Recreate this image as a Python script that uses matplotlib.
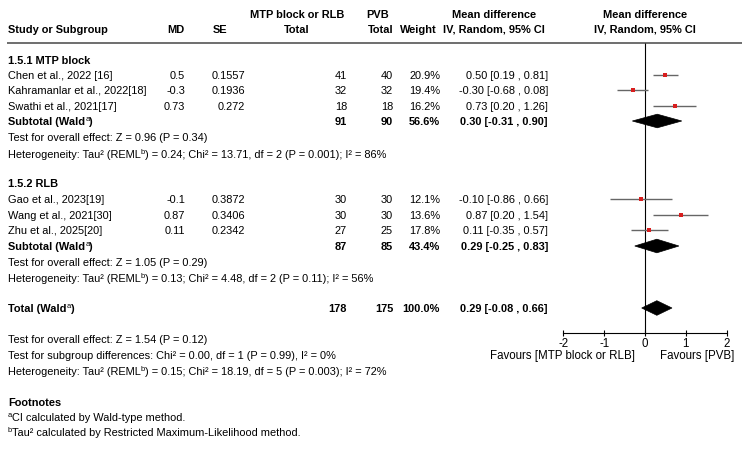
import matplotlib
matplotlib.use('Agg')
import matplotlib.pyplot as plt
from matplotlib.patches import Polygon

plt.rcParams['font.family'] = ['Liberation Sans', 'DejaVu Sans']
plt.rcParams['font.size'] = 7.9

# datos del forest plot
study_names = ['Chen et al., 2022 [16]', 'Kahramanlar et al., 2022[18]', 'Swathi et al., 2021[17]',
               'Gao et al., 2023[19]', 'Wang et al., 2021[30]', 'Zhu et al., 2025[20]']
md = [0.5, -0.3, 0.73, -0.1, 0.87, 0.11]
se = [0.1557, 0.1936, 0.272, 0.3872, 0.3406, 0.2342]
n_exp = [41, 32, 18, 30, 30, 27]
n_ctrl = [40, 32, 18, 30, 30, 25]
weight = [20.9, 19.4, 16.2, 12.1, 13.6, 17.8]
ci_lo = [0.19, -0.68, 0.20, -0.86, 0.20, -0.35]
ci_hi = [0.81, 0.08, 1.26, 0.66, 1.54, 0.57]

group_names = ['1.5.1 MTP block', '1.5.2 RLB']
sub_n_exp = [91, 87]
sub_n_ctrl = [90, 85]
sub_weight = [56.6, 43.4]
sub_md = [0.30, 0.29]
sub_lo = [-0.31, -0.25]
sub_hi = [0.90, 0.83]
sub_test = ['Test for overall effect: Z = 0.96 (P = 0.34)',
            'Test for overall effect: Z = 1.05 (P = 0.29)']
# (texto, es_superindice)
sub_het = [[('Heterogeneity: Tau\u00b2 (REML', False), ('b', True),
            (') = 0.24; Chi\u00b2 = 13.71, df = 2 (P = 0.001); I\u00b2 = 86%', False)],
           [('Heterogeneity: Tau\u00b2 (REML', False), ('b', True),
            (') = 0.13; Chi\u00b2 = 4.48, df = 2 (P = 0.11); I\u00b2 = 56%', False)]]

tot_n_exp = 178
tot_n_ctrl = 175
tot_weight = 100.0
tot_md = 0.29
tot_lo = -0.08
tot_hi = 0.66
tot_texts = [[('Test for overall effect: Z = 1.54 (P = 0.12)', False)],
             [('Test for subgroup differences: Chi\u00b2 = 0.00, df = 1 (P = 0.99), I\u00b2 = 0%', False)],
             [('Heterogeneity: Tau\u00b2 (REML', False), ('b', True),
              (') = 0.15; Chi\u00b2 = 18.19, df = 5 (P = 0.003); I\u00b2 = 72%', False)]]
footnotes = [[('a', True), ('CI calculated by Wald-type method.', False)],
             [('b', True), ('Tau\u00b2 calculated by Restricted Maximum-Likelihood method.', False)]]
x_ticks = [-2, -1, 0, 1, 2]

# posiciones (pixeles) de filas y columnas
study_y = [75, 90, 106, 199, 215, 230]
group_y = [60, 183]
sub_y = [121, 246]
test_y = [137, 262]
het_y = [154, 278]
total_y = 308
tot_text_y = [339, 355, 371]
axis_y = 333
X_LABEL, X_MD, X_SE, X_NE, X_NC, X_W, X_CI = 8, 185, 245, 347, 393, 440, 548

fig = plt.figure(figsize=(7.5, 4.5), dpi=100)
ax = fig.add_axes([0, 0, 1, 1])
ax.set_xlim(0, 750)
ax.set_ylim(450, 0)
ax.axis('off')


def txt(x, y, s, ha='left', bold=False):
    return ax.text(x, y, s, ha=ha, va='center_baseline', fontweight='bold' if bold else 'normal')


def rich(x, y, parts, bold=False):
    # texto con superindices encadenados; ancla invisible para la linea base
    fw = 'bold' if bold else 'normal'
    anchor = ax.text(x, y, 'Ag', ha='left', va='center_baseline', alpha=0, fontweight=fw)
    prev, xf = anchor, 0
    for s, sup in parts:
        if sup:
            prev = ax.annotate(s, xy=(xf, 0.42), xycoords=(prev, anchor), ha='left', va='bottom',
                               fontsize=5.4, fontweight='normal')
        else:
            prev = ax.annotate(s, xy=(xf, 0), xycoords=(prev, anchor), ha='left', va='bottom',
                               fontweight=fw)
        xf = 1
    return anchor


# cabecera
txt(297, 14, 'MTP block or RLB', 'center', True)
txt(378, 14, 'PVB', 'center', True)
txt(494, 14, 'Mean difference', 'center', True)
txt(645, 14, 'Mean difference', 'center', True)
txt(X_LABEL, 29, 'Study or Subgroup', bold=True)
txt(X_MD, 29, 'MD', 'right', True)
txt(213, 29, 'SE', bold=True)
txt(297, 29, 'Total', 'center', True)
txt(X_NC, 29, 'Total', 'right', True)
txt(X_W - 3, 29, 'Weight', 'right', True)
txt(494, 29, 'IV, Random, 95% CI', 'center', True)
txt(645, 29, 'IV, Random, 95% CI', 'center', True)
ax.hlines(43, 7, 742, color='#555555', lw=1.2)

# columnas de texto
for g in range(2):
    txt(X_LABEL, group_y[g], group_names[g], bold=True)
    rich(X_LABEL, sub_y[g], [('Subtotal (Wald', False), ('a', True), (')', False)], bold=True)
    txt(X_NE, sub_y[g], str(sub_n_exp[g]), 'right', True)
    txt(X_NC, sub_y[g], str(sub_n_ctrl[g]), 'right', True)
    txt(X_W, sub_y[g], f'{sub_weight[g]:.1f}%', 'right', True)
    txt(X_CI, sub_y[g], f'{sub_md[g]:.2f} [{sub_lo[g]:.2f} , {sub_hi[g]:.2f}]', 'right', True)
    txt(X_LABEL, test_y[g], sub_test[g])
    rich(X_LABEL, het_y[g], sub_het[g])

for i in range(len(study_names)):
    y = study_y[i]
    txt(X_LABEL, y, study_names[i])
    txt(X_MD, y, f'{md[i]:g}', 'right')
    txt(X_SE, y, f'{se[i]:g}', 'right')
    txt(X_NE, y, str(n_exp[i]), 'right')
    txt(X_NC, y, str(n_ctrl[i]), 'right')
    txt(X_W, y, f'{weight[i]:.1f}%', 'right')
    txt(X_CI, y, f'{md[i]:.2f} [{ci_lo[i]:.2f} , {ci_hi[i]:.2f}]', 'right')

rich(X_LABEL, total_y, [('Total (Wald', False), ('a', True), (')', False)], bold=True)
txt(X_NE, total_y, str(tot_n_exp), 'right', True)
txt(X_NC, total_y, str(tot_n_ctrl), 'right', True)
txt(X_W, total_y, f'{tot_weight:.1f}%', 'right', True)
txt(X_CI, total_y, f'{tot_md:.2f} [{tot_lo:.2f} , {tot_hi:.2f}]', 'right', True)
for parts, y in zip(tot_texts, tot_text_y):
    rich(X_LABEL, y, parts)

txt(X_LABEL, 402, 'Footnotes', bold=True)
rich(X_LABEL, 417, footnotes[0])
rich(X_LABEL, 432, footnotes[1])

# panel grafico
x0, x1 = 563.3, 726.7
fx = fig.add_axes([x0 / 750, 0, (x1 - x0) / 750, 1])
fx.set_xlim(-2, 2)
fx.set_ylim(450, 0)
fx.patch.set_alpha(0)
for sp in ['top', 'left', 'right']:
    fx.spines[sp].set_visible(False)
fx.spines['bottom'].set_position(('data', axis_y))
fx.spines['bottom'].set_bounds(-2, 2)
fx.spines['bottom'].set_linewidth(0.8)
fx.set_yticks([])
fx.set_xticks(x_ticks)
fx.set_xticklabels([str(t) for t in x_ticks])
fx.tick_params(axis='x', direction='inout', length=5, width=0.8, pad=1, labelsize=8.3)
fx.vlines(0, 43, axis_y, color='black', lw=0.8)

for i in range(len(md)):
    fx.hlines(study_y[i], ci_lo[i], ci_hi[i], color='#666666', lw=1)
    fx.plot(md[i], study_y[i], 's', color='#d81e1e', ms=2.0 + weight[i] * 0.075, mew=0)


def diamond(c, lo, hi, y, h=6.8):
    fx.add_patch(Polygon([(lo, y), (c, y - h), (hi, y), (c, y + h)], closed=True,
                         facecolor='black', edgecolor='black', lw=0.5))


for g in range(2):
    diamond(sub_md[g], sub_lo[g], sub_hi[g], sub_y[g])
diamond(tot_md, tot_lo, tot_hi, total_y, 7.3)

ax.text(562, 356, 'Favours [MTP block or RLB]', ha='center', va='center', fontsize=8.3)
ax.text(697, 356, 'Favours [PVB]', ha='center', va='center', fontsize=8.3)

fig.savefig('out.png', dpi=100)
